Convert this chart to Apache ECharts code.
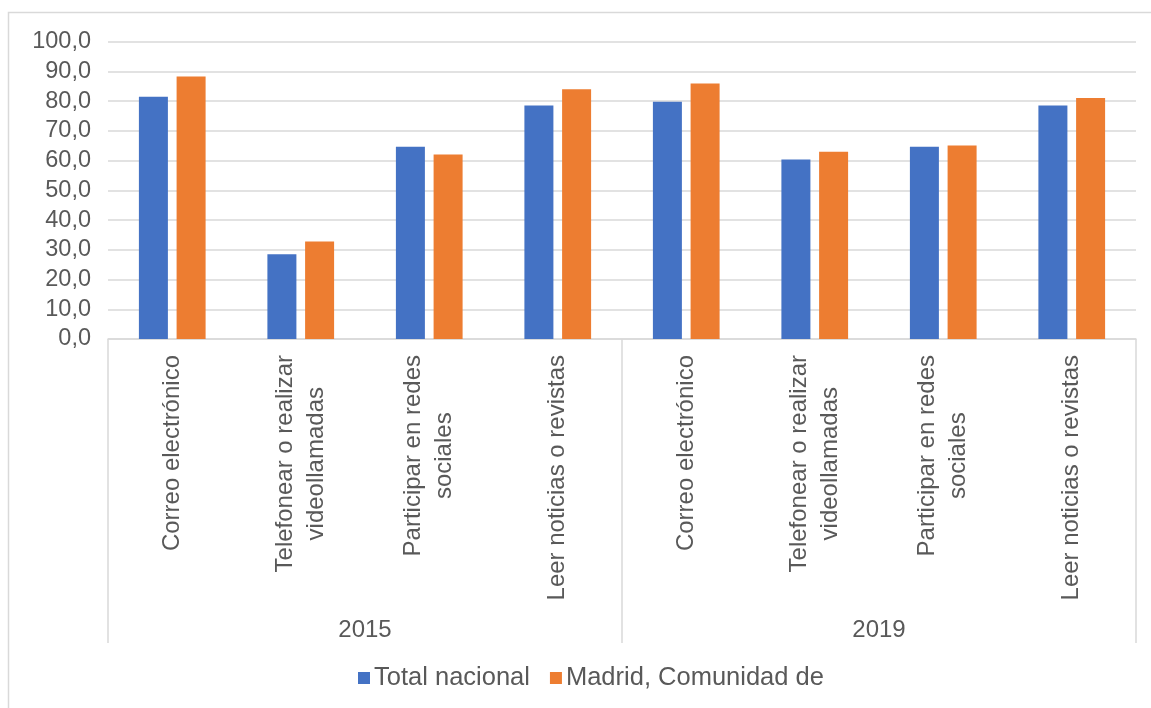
<!DOCTYPE html>
<html>
<head>
<meta charset="utf-8">
<script src="https://cdn.jsdelivr.net/npm/echarts@6/dist/echarts.min.js"></script>
<style>
html,body{margin:0;padding:0;background:#fff;}
#chart{width:1151px;height:708px;}
</style>
</head>
<body>
<div id="chart"></div>
<script>
const categories = [
  'Correo electrónico', 'Telefonear o realizar\nvideollamadas', 'Participar en redes\nsociales', 'Leer noticias o revistas',
  'Correo electrónico', 'Telefonear o realizar\nvideollamadas', 'Participar en redes\nsociales', 'Leer noticias o revistas'
];
const years = ['2015', '2019'];
const totalNacional = [81.5, 28.5, 64.7, 78.5, 79.8, 60.4, 64.7, 78.5];
const madrid = [88.3, 32.8, 62.1, 84.0, 85.9, 63.0, 65.1, 81.1];
const seriesNames = ['Total nacional', 'Madrid, Comunidad de'];

const FONT = '"Liberation Sans", Arial, sans-serif';
const TXT = '#595959';
const GRID = '#d9d9d9';

const chart = echarts.init(document.getElementById('chart'));
chart.setOption({
  animation: false,
  backgroundColor: '#fff',
  textStyle: { fontFamily: FONT },
  graphic: [{
    type: 'rect',
    shape: { x: 8.5, y: 12.5, width: 1160, height: 720 },
    style: { fill: 'none', stroke: '#d9d9d9', lineWidth: 1.5 },
    silent: true, z: -10
  }],
  grid: { left: 108, right: 15, top: 41.7, bottom: 369, containLabel: false },
  legend: {
    data: seriesNames,
    bottom: 12,
    left: 353,
    itemWidth: 12, itemHeight: 12, itemGap: 20,
    icon: 'rect',
    textStyle: { fontSize: 25.5, color: TXT, fontFamily: FONT, padding: [0, 0, 0, -1] }
  },
  xAxis: [{
    type: 'category',
    data: categories,
    gridIndex: 0,
    axisLine: { show: true, lineStyle: { color: GRID, width: 1.5 } },
    axisTick: { show: false },
    axisLabel: {
      rotate: 90,
      interval: 0,
      margin: 16,
      formatter: function (v) { return v.split('\n').map(l => '{c|' + l + '}').join('\n'); },
      rich: { c: { fontSize: 24, color: TXT, fontFamily: FONT, align: 'center', lineHeight: 31 } }
    }
  }, {
    type: 'category',
    data: years,
    gridIndex: 0,
    position: 'bottom',
    axisLine: { show: false },
    axisTick: { show: true, length: 304, lineStyle: { color: GRID, width: 1.5 } },
    axisLabel: { margin: 279, fontSize: 24, color: TXT, fontFamily: FONT },
    splitLine: { show: false }
  }],
  yAxis: {
    type: 'value',
    min: 0, max: 100, interval: 10,
    axisLine: { show: false },
    axisTick: { show: false },
    axisLabel: {
      margin: 17, fontSize: 23.5, color: TXT, fontFamily: FONT,
      formatter: v => v.toFixed(1).replace('.', ',')
    },
    splitLine: { lineStyle: { color: GRID, width: 1.5 } }
  },
  series: [{
    name: seriesNames[0], type: 'bar', xAxisIndex: 0, data: totalNacional,
    itemStyle: { color: '#4472C4' }, barWidth: 29, barGap: '30%'
  }, {
    name: seriesNames[1], type: 'bar', xAxisIndex: 0, data: madrid,
    itemStyle: { color: '#ED7D31' }, barWidth: 29, barGap: '30%'
  }]
});
</script>
</body>
</html>
